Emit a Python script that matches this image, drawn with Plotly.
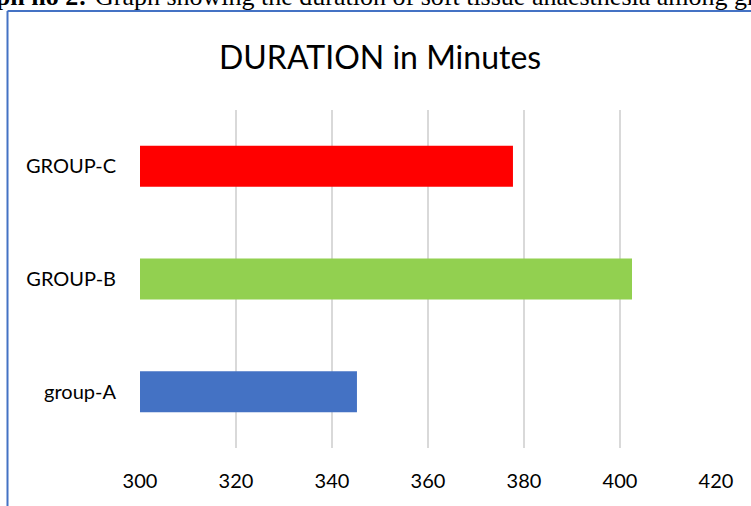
import plotly.graph_objects as go

categories = ["group-A", "GROUP-B", "GROUP-C"]
durations = [345.2, 402.5, 377.7]
bar_colors = ["#4472C4", "#92D050", "#FF0000"]
x_ticks = [300, 320, 340, 360, 380, 400, 420]

W, H = 751, 506
L, R, T, B = 140, 35, 110.25, 58.25
pw, ph = W - L - R, H - T - B

def px(x):
    return (x - L) / pw

def py(y):
    return (H - B - y) / ph

fig = go.Figure(go.Bar(
    y=categories, x=durations, orientation="h",
    marker=dict(color=bar_colors, line=dict(width=0)),
))

font_main = "Lato, Calibri, Carlito, sans-serif"

fig.update_layout(
    width=W, height=H,
    margin=dict(l=L, r=R, t=T, b=B, autoexpand=False),
    paper_bgcolor="white", plot_bgcolor="white",
    bargap=0.636, showlegend=False,
    font=dict(family=font_main, color="#000000"),
    xaxis=dict(range=[300, 420], tickvals=x_ticks, showgrid=True,
               gridcolor="#d9d9d9", gridwidth=1.5, zeroline=False,
               showline=False, ticks="", tickfont=dict(size=20, family=font_main, color="#000"),
               ticklabelstandoff=19),
    yaxis=dict(showgrid=False, zeroline=False, showline=False, ticks="",
               tickfont=dict(size=20, family=font_main, color="#000"),
               ticklabelstandoff=23),
)

# Title
fig.add_annotation(text="DURATION in Minutes", xref="paper", yref="paper",
                   x=px(380), y=py(56.5), xanchor="center", yanchor="middle",
                   showarrow=False, font=dict(size=32, family=font_main, color="#000"))

# Cut-off caption above the chart frame (cut off in the reference too)
serif = "Liberation Serif, Times New Roman, serif"
fig.add_annotation(text="<b>Graph no 2:</b>", xref="paper", yref="paper",
                   x=px(89), y=py(13), xanchor="right", yanchor="bottom",
                   showarrow=False, font=dict(size=26, family=serif, color="#000"))
fig.add_annotation(text="Graph showing the duration of soft tissue anaesthesia among groups",
                   xref="paper", yref="paper",
                   x=px(93), y=py(13), xanchor="left", yanchor="bottom",
                   showarrow=False, font=dict(size=26, family=serif, color="#000"))

# Blue frame (left and top edges)
fig.add_shape(type="line", xref="paper", yref="paper",
              x0=px(7.5), x1=px(7.5), y0=py(11.5), y1=py(520),
              line=dict(color="#4472C4", width=2))
fig.add_shape(type="line", xref="paper", yref="paper",
              x0=px(7.5), x1=px(770), y0=py(11.5), y1=py(11.5),
              line=dict(color="#4472C4", width=2))

fig.write_html("out.html", config={"displayModeBar": False},
               post_script="document.body.style.margin='0';document.body.style.padding='0';document.body.style.overflow='hidden';")
